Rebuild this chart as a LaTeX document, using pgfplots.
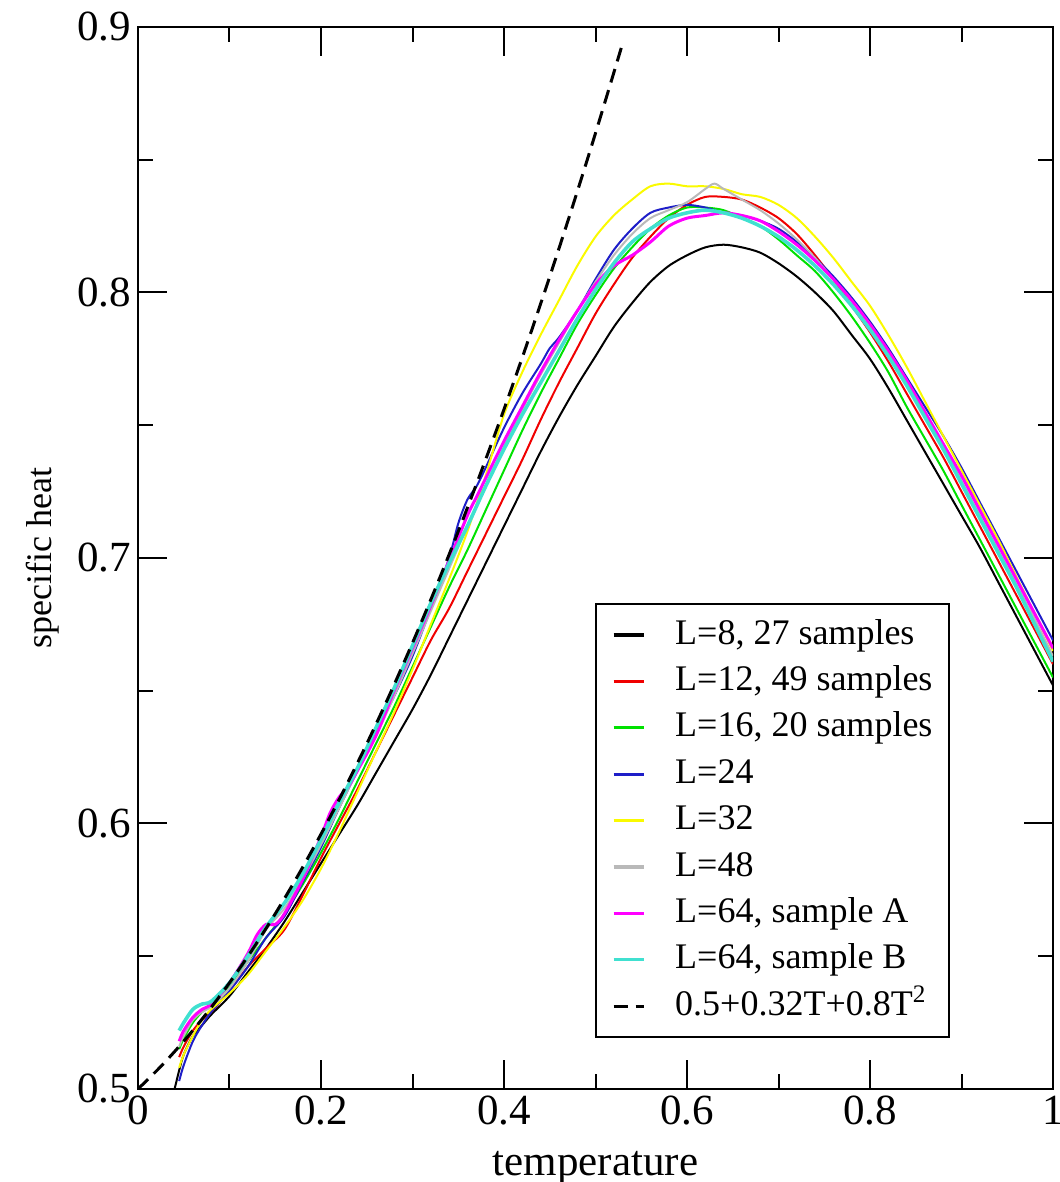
\documentclass[border=0pt]{standalone}
\usepackage{pgfplots}
\pgfplotsset{compat=1.18}
\usepackage{fontspec}
\setmainfont{Liberation Serif}
\definecolor{gblue}{RGB}{30,30,200}
\definecolor{ggreen}{RGB}{0,225,0}
\definecolor{gyellow}{RGB}{250,250,0}
\definecolor{ggray}{RGB}{185,185,185}
\definecolor{gmag}{RGB}{255,0,255}
\definecolor{gcyan}{RGB}{64,224,208}
\definecolor{gred}{RGB}{240,0,0}
\begin{document}
\begin{tikzpicture}
\begin{axis}[
  name=ax,
  scale only axis,
  width=457.5pt, height=531pt,
  xmin=0, xmax=1, ymin=0.5, ymax=0.9,
  xtick={0,0.2,0.4,0.6,0.8,1},
  ytick={0.5,0.6,0.7,0.8,0.9},
  minor x tick num=1, minor y tick num=1,
  tick align=inside,
  major tick length=14.5pt, minor tick length=7.5pt,
  every tick/.style={black, line width=1pt},
  axis line style={line width=1.3pt},
  /pgf/number format/assume math mode=true,
  tick label style={font=\fontsize{21.5}{25}\selectfont},
  xlabel={temperature}, ylabel={specific heat},
  xlabel style={font=\fontsize{21.5}{25}\selectfont, yshift=-6pt},
  ylabel style={font=\fontsize{18}{21}\selectfont, yshift=2pt},
  legend cell align=left,
  legend image code/.code={\draw[#1, line width=1.6pt] (0pt,0pt) -- (15pt,0pt);},
  legend style={at={(0.4995,0.4576)}, anchor=north west, draw=black, line width=1pt,
    font=\fontsize{18}{21}\selectfont, inner xsep=8pt, inner ysep=7pt,
    nodes={inner sep=0pt, text height=13pt, text depth=4pt},
    row sep=6.2pt, column sep=15pt},
]
% L=8
\addplot[black, line width=1pt, smooth] coordinates {
(0.04,0.500) (0.045,0.507) (0.05,0.513) (0.06,0.520) (0.07,0.524) (0.08,0.528) (0.10,0.535)
(0.12,0.544) (0.14,0.553) (0.16,0.563) (0.18,0.574) (0.20,0.585) (0.22,0.596) (0.24,0.607)
(0.26,0.619) (0.28,0.631) (0.30,0.643) (0.32,0.656) (0.34,0.670) (0.36,0.684) (0.38,0.698)
(0.40,0.712) (0.42,0.726) (0.44,0.740) (0.46,0.753) (0.48,0.765) (0.50,0.776) (0.52,0.787)
(0.54,0.796) (0.56,0.804) (0.58,0.810) (0.60,0.814) (0.62,0.817) (0.64,0.818) (0.66,0.817)
(0.68,0.815) (0.70,0.811) (0.72,0.806) (0.74,0.800) (0.76,0.793) (0.78,0.784) (0.80,0.775)
(0.82,0.764) (0.84,0.752) (0.86,0.740) (0.88,0.728) (0.90,0.716) (0.92,0.704) (0.94,0.691)
(0.96,0.678) (0.98,0.665) (1.00,0.652)};
\addlegendentry{L=8, 27 samples}
% L=12
\addplot[gred, line width=1pt, smooth] coordinates {
(0.045,0.512) (0.05,0.516) (0.06,0.522) (0.07,0.526) (0.08,0.529) (0.10,0.537) (0.12,0.546)
(0.14,0.553) (0.16,0.560) (0.18,0.573) (0.20,0.587) (0.22,0.600) (0.24,0.613) (0.26,0.627)
(0.28,0.641) (0.30,0.655) (0.32,0.669) (0.34,0.681) (0.36,0.695) (0.38,0.709) (0.40,0.723)
(0.42,0.737) (0.44,0.752) (0.46,0.766) (0.48,0.779) (0.50,0.792) (0.52,0.803) (0.54,0.813)
(0.56,0.821) (0.58,0.828) (0.60,0.833) (0.62,0.836) (0.64,0.836) (0.66,0.835) (0.68,0.832)
(0.70,0.828) (0.72,0.822) (0.74,0.814) (0.76,0.805) (0.78,0.795) (0.80,0.785) (0.82,0.774)
(0.84,0.762) (0.86,0.750) (0.88,0.738) (0.90,0.725) (0.92,0.712) (0.94,0.699) (0.96,0.686)
(0.98,0.673) (1.00,0.660)};
\addlegendentry{L=12, 49 samples}
% L=16
\addplot[ggreen, line width=1pt, smooth] coordinates {
(0.045,0.515) (0.05,0.519) (0.06,0.525) (0.07,0.529) (0.08,0.532) (0.10,0.539) (0.12,0.548)
(0.14,0.557) (0.16,0.566) (0.18,0.577) (0.20,0.589) (0.22,0.602) (0.24,0.616) (0.26,0.630)
(0.28,0.644) (0.30,0.659) (0.32,0.674) (0.34,0.689) (0.36,0.703) (0.38,0.718) (0.40,0.733)
(0.42,0.748) (0.44,0.762) (0.46,0.775) (0.48,0.788) (0.50,0.799) (0.52,0.809) (0.54,0.817)
(0.56,0.824) (0.58,0.829) (0.60,0.832) (0.62,0.832) (0.64,0.831) (0.66,0.828) (0.68,0.825)
(0.70,0.820) (0.72,0.814) (0.74,0.808) (0.76,0.800) (0.78,0.791) (0.80,0.781) (0.82,0.770)
(0.84,0.757) (0.86,0.745) (0.88,0.733) (0.90,0.720) (0.92,0.707) (0.94,0.694) (0.96,0.681)
(0.98,0.668) (1.00,0.655)};
\addlegendentry{L=16, 20 samples}
% L=24
\addplot[gblue, line width=1pt, smooth] coordinates {
(0.045,0.503) (0.05,0.509) (0.06,0.518) (0.07,0.524) (0.08,0.529) (0.10,0.537) (0.12,0.546)
(0.14,0.557) (0.16,0.565) (0.18,0.578) (0.20,0.591) (0.22,0.606) (0.24,0.620) (0.26,0.634)
(0.28,0.648) (0.30,0.663) (0.32,0.681) (0.34,0.700) (0.35,0.713) (0.36,0.722) (0.37,0.727)
(0.38,0.734) (0.40,0.749) (0.42,0.762) (0.44,0.773) (0.45,0.779) (0.46,0.783) (0.48,0.793)
(0.50,0.805) (0.52,0.816) (0.54,0.824) (0.56,0.830) (0.58,0.832) (0.60,0.833) (0.62,0.832)
(0.64,0.830) (0.66,0.829) (0.68,0.827) (0.70,0.824) (0.72,0.819) (0.74,0.813) (0.76,0.806)
(0.78,0.798) (0.80,0.789) (0.82,0.779) (0.84,0.768) (0.86,0.757) (0.88,0.746) (0.90,0.734)
(0.92,0.721) (0.94,0.708) (0.96,0.695) (0.98,0.682) (1.00,0.669)};
\addlegendentry{L=24}
% L=32
\addplot[gyellow, line width=1pt, smooth] coordinates {
(0.045,0.508) (0.05,0.513) (0.06,0.520) (0.07,0.526) (0.08,0.530) (0.10,0.536) (0.12,0.543)
(0.14,0.552) (0.16,0.561) (0.18,0.571) (0.20,0.583) (0.22,0.597) (0.24,0.612) (0.26,0.627)
(0.28,0.642) (0.30,0.658) (0.32,0.675) (0.34,0.692) (0.36,0.710) (0.38,0.731) (0.40,0.754)
(0.42,0.770) (0.44,0.784) (0.46,0.797) (0.48,0.810) (0.50,0.821) (0.52,0.829) (0.54,0.835)
(0.56,0.840) (0.58,0.841) (0.60,0.840) (0.62,0.840) (0.64,0.839) (0.66,0.837) (0.68,0.836)
(0.70,0.833) (0.72,0.828) (0.74,0.821) (0.76,0.813) (0.78,0.804) (0.80,0.795) (0.82,0.784)
(0.84,0.772) (0.86,0.759) (0.88,0.746) (0.90,0.733) (0.92,0.720) (0.94,0.707) (0.96,0.693)
(0.98,0.679) (1.00,0.665)};
\addlegendentry{L=32}
% L=48
\addplot[ggray, line width=1pt, smooth] coordinates {
(0.045,0.516) (0.05,0.520) (0.06,0.526) (0.07,0.529) (0.08,0.531) (0.10,0.538) (0.12,0.548)
(0.14,0.560) (0.16,0.568) (0.18,0.579) (0.20,0.592) (0.22,0.606) (0.24,0.620) (0.26,0.633)
(0.28,0.648) (0.30,0.664) (0.32,0.680) (0.34,0.696) (0.36,0.712) (0.38,0.727) (0.40,0.742)
(0.42,0.756) (0.44,0.769) (0.46,0.781) (0.48,0.793) (0.50,0.804) (0.52,0.814) (0.54,0.822)
(0.56,0.828) (0.58,0.831) (0.60,0.834) (0.62,0.839) (0.63,0.841) (0.64,0.839) (0.66,0.835)
(0.68,0.831) (0.70,0.826) (0.72,0.820) (0.74,0.813) (0.76,0.805) (0.78,0.797) (0.80,0.788)
(0.82,0.777) (0.84,0.766) (0.86,0.754) (0.88,0.742) (0.90,0.729) (0.92,0.716) (0.94,0.703)
(0.96,0.690) (0.98,0.677) (1.00,0.663)};
\addlegendentry{L=48}
% L=64 A
\addplot[gmag, line width=1.5pt, smooth] coordinates {
(0.045,0.518) (0.05,0.522) (0.06,0.527) (0.07,0.530) (0.08,0.532) (0.10,0.540) (0.12,0.551)
(0.13,0.558) (0.14,0.562) (0.15,0.562) (0.16,0.566) (0.18,0.579) (0.20,0.595) (0.21,0.604)
(0.22,0.610) (0.23,0.614) (0.24,0.620) (0.26,0.633) (0.28,0.650) (0.30,0.666) (0.32,0.682)
(0.34,0.699) (0.36,0.716) (0.37,0.723) (0.38,0.730) (0.40,0.744) (0.42,0.757) (0.44,0.770)
(0.46,0.782) (0.48,0.793) (0.50,0.803) (0.52,0.810) (0.54,0.814) (0.56,0.819) (0.58,0.825)
(0.60,0.828) (0.62,0.829) (0.64,0.830) (0.66,0.829) (0.68,0.827) (0.70,0.823) (0.72,0.818)
(0.74,0.812) (0.76,0.805) (0.78,0.797) (0.80,0.788) (0.82,0.778) (0.84,0.767) (0.86,0.755)
(0.88,0.743) (0.90,0.731) (0.92,0.718) (0.94,0.705) (0.96,0.692) (0.98,0.679) (1.00,0.666)};
\addlegendentry{L=64, sample A}
% L=64 B
\addplot[gcyan, line width=1.8pt, smooth] coordinates {
(0.045,0.522) (0.05,0.525) (0.06,0.530) (0.07,0.532) (0.08,0.533) (0.10,0.540) (0.12,0.550)
(0.14,0.561) (0.16,0.570) (0.18,0.581) (0.20,0.594) (0.22,0.608) (0.24,0.621) (0.26,0.636)
(0.28,0.651) (0.30,0.667) (0.32,0.683) (0.34,0.698) (0.36,0.712) (0.38,0.727) (0.40,0.741)
(0.42,0.754) (0.44,0.766) (0.46,0.778) (0.48,0.790) (0.50,0.801) (0.52,0.811) (0.54,0.819)
(0.56,0.824) (0.58,0.828) (0.60,0.830) (0.62,0.831) (0.64,0.830) (0.66,0.828) (0.68,0.825)
(0.70,0.821) (0.72,0.816) (0.74,0.810) (0.76,0.803) (0.78,0.795) (0.80,0.786) (0.82,0.776)
(0.84,0.765) (0.86,0.753) (0.88,0.741) (0.90,0.728) (0.92,0.715) (0.94,0.702) (0.96,0.689)
(0.98,0.675) (1.00,0.661)};
\addlegendentry{L=64, sample B}
% fit
\addplot[black, line width=1.5pt, dash pattern=on 7pt off 4pt, smooth] coordinates {
(0,0.5) (0.025,0.5085) (0.05,0.518) (0.075,0.5285) (0.1,0.540) (0.125,0.5525) (0.15,0.566)
(0.175,0.5805) (0.2,0.596) (0.225,0.6125) (0.25,0.630) (0.275,0.6485) (0.3,0.668)
(0.325,0.6885) (0.35,0.710) (0.375,0.7325) (0.4,0.756) (0.425,0.7805) (0.45,0.806)
(0.475,0.8325) (0.5,0.860) (0.525,0.8885) (0.53,0.89432)};
\addlegendentry{0.5+0.32T+0.8T\textsuperscript{2}}
\end{axis}
\pgfresetboundingbox
\path ([shift={(-69pt,-46.5pt)}]ax.south west) rectangle ([shift={(3pt,13.5pt)}]ax.north east);
\end{tikzpicture}
\end{document}
